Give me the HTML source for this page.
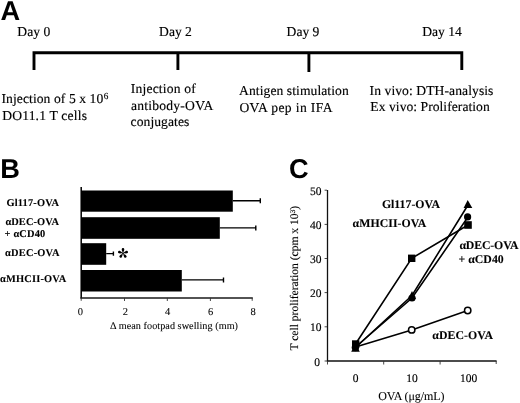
<!DOCTYPE html>
<html><head><meta charset="utf-8">
<style>
html,body{margin:0;padding:0;background:#fff;width:520px;height:403px;overflow:hidden}
svg{display:block;text-rendering:geometricPrecision;filter:grayscale(1)}
.s{font-family:"Liberation Serif",serif;fill:#000;stroke:#000;stroke-width:0.15px}
.b{font-family:"Liberation Serif",serif;font-weight:bold;fill:#000;stroke:#000;stroke-width:0.1px}
.t{font-family:"Liberation Serif",serif;fill:#000;stroke:#000;stroke-width:0.08px}
.h{font-family:"Liberation Sans",sans-serif;font-weight:bold;fill:#000}
</style></head><body>
<svg width="520" height="403" viewBox="0 0 520 403">
<!-- Panel A -->
<text class="h" x="0.6" y="20.2" font-size="27.2">A</text>
<g class="s" font-size="13.6">
<text id="t_day0" x="17.30" textLength="32.94" lengthAdjust="spacing" y="35.5">Day 0</text>
<text id="t_day2" x="159.12" textLength="32.74" lengthAdjust="spacing" y="35.5">Day 2</text>
<text id="t_day9" x="286.62" textLength="32.74" lengthAdjust="spacing" y="35.5">Day 9</text>
<text id="t_day14" x="422.18" textLength="39.58" lengthAdjust="spacing" y="35.5">Day 14</text>
<text id="t_inj5" x="1.50" textLength="106.72" lengthAdjust="spacing" y="102.5">Injection of 5 x 10<tspan font-size="9.2" dy="-3.9" dx="0.3">6</tspan></text>
<text id="t_do11" x="2.14" textLength="84.84" lengthAdjust="spacing" y="119.5">DO11.1 T cells</text>
<text id="t_injof" x="130.84" textLength="64.87" lengthAdjust="spacing" y="92.9">Injection of</text>
<text id="t_antib" x="131.00" textLength="82.26" lengthAdjust="spacing" y="109.8">antibody-OVA</text>
<text id="t_conj" x="130.52" textLength="58.88" lengthAdjust="spacing" y="126.3">conjugates</text>
<text id="t_antig" x="239.10" textLength="109.60" lengthAdjust="spacing" y="94.9">Antigen stimulation</text>
<text id="t_ovapep" x="239.42" textLength="93.11" lengthAdjust="spacing" y="111.5">OVA pep in IFA</text>
<text id="t_invivo" x="369.56" textLength="123.86" lengthAdjust="spacing" y="95.3">In vivo: DTH-analysis</text>
<text id="t_exvivo" x="370.36" textLength="119.37" lengthAdjust="spacing" y="111.1">Ex vivo: Proliferation</text>
</g>
<g stroke="#000" stroke-width="2.9" fill="none" stroke-linecap="butt" stroke-linejoin="miter">
<path d="M34 70 V52.75 H461.8 V70"/>
<path d="M177.9 52.75 V70"/>
<path d="M308.9 52.75 V72"/>
</g>

<!-- Panel B -->
<text class="h" x="0.3" y="177.8" font-size="27.2">B</text>
<g class="b" font-size="10.4">
<text id="b_gl" x="6.40" textLength="52.73" lengthAdjust="spacing" y="205.8">Gl117-OVA</text>
<text id="b_dec1" x="5.40" textLength="53.52" lengthAdjust="spacing" y="225">αDEC-OVA</text>
<text id="b_cd40" x="4.60" textLength="40.64" lengthAdjust="spacing" y="237.3">+ αCD40</text>
<text id="b_dec3" x="5.00" textLength="54.52" lengthAdjust="spacing" y="256.2">αDEC-OVA</text>
<text id="b_mhc" x="0.00" textLength="66.17" lengthAdjust="spacing" y="282.3">αMHCII-OVA</text>
</g>
<g fill="#000">
<rect x="81" y="190.5" width="151.8" height="21.2"/>
<rect x="81" y="217.2" width="138.8" height="21.6"/>
<rect x="81" y="243.2" width="25.2" height="21.6"/>
<rect x="81" y="270" width="100.8" height="21.5"/>
</g>
<g stroke="#000" stroke-width="1.4" fill="none">
<path d="M232.8 200.8 H260.3 M260.3 198.3 V203.3"/>
<path d="M219.8 227.9 H255.8 M255.8 225.5 V230.5"/>
<path d="M106.2 253.6 H113.4 M113.4 251.5 V255.8"/>
<path d="M181.8 279.9 H223.5 M223.5 277.5 V282.5"/>
<path d="M81.2 187 V298.5" stroke-width="1.5"/>
<path d="M80.5 297.9 H252.8" stroke-width="1.5" stroke="#1a1a1a"/>
<path d="M81.2 297.9 V300.8 M124.5 297.9 V301 M167.3 297.9 V301 M210.4 297.9 V301 M252.2 297.9 V300.8" stroke-width="0.9" stroke="#333"/>
</g>
<g transform="translate(123 253.3)" fill="#000"><path transform="rotate(0)" d="M0 0 C-0.3 -1.3 -1.35 -2.9 -1.3 -3.9 A1.3 1.3 0 0 1 1.3 -3.9 C1.35 -2.9 0.3 -1.3 0 0Z"/><path transform="rotate(72)" d="M0 0 C-0.3 -1.3 -1.35 -2.9 -1.3 -3.9 A1.3 1.3 0 0 1 1.3 -3.9 C1.35 -2.9 0.3 -1.3 0 0Z"/><path transform="rotate(144)" d="M0 0 C-0.3 -1.3 -1.35 -2.9 -1.3 -3.9 A1.3 1.3 0 0 1 1.3 -3.9 C1.35 -2.9 0.3 -1.3 0 0Z"/><path transform="rotate(216)" d="M0 0 C-0.3 -1.3 -1.35 -2.9 -1.3 -3.9 A1.3 1.3 0 0 1 1.3 -3.9 C1.35 -2.9 0.3 -1.3 0 0Z"/><path transform="rotate(288)" d="M0 0 C-0.3 -1.3 -1.35 -2.9 -1.3 -3.9 A1.3 1.3 0 0 1 1.3 -3.9 C1.35 -2.9 0.3 -1.3 0 0Z"/><circle r="0.9"/></g>
<g class="t" font-size="10.5" text-anchor="middle">
<text x="80.4" y="315">0</text>
<text x="125.3" y="315">2</text>
<text x="167.6" y="315">4</text>
<text x="210.6" y="315">6</text>
<text x="253" y="315">8</text>
</g>
<text id="b_xlab" class="t" x="110.00" textLength="128.02" lengthAdjust="spacing" y="328.5" font-size="10.2">Δ mean footpad swelling (mm)</text>

<!-- Panel C -->
<text class="h" x="289" y="177.6" font-size="27.2">C</text>
<g class="s" font-size="11.5" text-anchor="end">
<text x="321.5" y="194.5">50</text>
<text x="321.5" y="228.7">40</text>
<text x="321.5" y="262.8">30</text>
<text x="321.5" y="297">20</text>
<text x="321.5" y="331.2">10</text>
<text x="320" y="366.1">0</text>
</g>
<g class="s" font-size="11.5" text-anchor="middle">
<text x="355.5" y="381.6">0</text>
<text x="412" y="381.6">10</text>
<text x="468.5" y="381.6">100</text>
</g>
<text id="c_xlab" class="t" x="378.20" textLength="66.22" lengthAdjust="spacing" y="399.6" font-size="12">OVA (μg/mL)</text>
<text class="s" transform="translate(297.8 350.6) rotate(-90)" font-size="11.6">T cell proliferation (cpm x 10<tspan font-size="7.2" dy="-2.8">3</tspan><tspan dy="2.8">)</tspan></text>
<g stroke="#111" stroke-width="1.3" fill="none">
<path d="M327.5 190 V361.6"/>
<path d="M326.9 361 H496.6"/>
</g>
<g stroke="#333" stroke-width="0.9" fill="none">
<path d="M327.5 361 V364.5 M383.7 361 V364.5 M440.1 361 V364.5 M496.2 361 V364"/>
<path d="M324.6 190.2 H327 M324.6 224.4 H327 M324.6 258.5 H327 M324.6 292.6 H327 M324.6 326.8 H327 M324.6 361 H327"/>
</g>
<g stroke="#000" stroke-width="1.6" fill="none">
<polyline points="355.5,347.5 412,295.5 468.3,204.5"/>
<polyline points="355.5,347 412,298 468,217"/>
<polyline points="355.5,344 411.7,258.3 468,225"/>
<polyline points="355.5,347 411.7,330 467.7,310.5"/>
</g>
<g fill="#000">
<rect x="352" y="340.3" width="7.4" height="7.4"/>
<path d="M355.5 343.5 L359.8 351.8 L351.2 351.8 Z"/>
<circle cx="355.4" cy="347.6" r="3.7"/>
<rect x="408" y="254.6" width="7.4" height="7.4"/>
<rect x="464.2" y="221.2" width="7.6" height="7.6"/>
<circle cx="467.6" cy="216.9" r="3.6"/>
<path d="M467.7 199.9 L472.3 208 L463.6 208 Z"/>
<path d="M412 291 L416 299 L408 299 Z"/>
<circle cx="412" cy="298" r="3.6"/>
</g>
<g stroke="#000" stroke-width="1.5" fill="#fff">
<circle cx="411.7" cy="329.9" r="3.2"/>
<circle cx="467.7" cy="310.5" r="3.2"/>
</g>
<g class="b" font-size="11.8">
<text id="c_gl" x="381.90" textLength="58.12" lengthAdjust="spacing" y="207.8">Gl117-OVA</text>
<text id="c_mhc" x="352.60" textLength="73.72" lengthAdjust="spacing" y="227">αMHCII-OVA</text>
<text id="c_dec1" x="459.40" textLength="59.12" lengthAdjust="spacing" y="248.7">αDEC-OVA</text>
<text id="c_cd40" x="458.60" textLength="45.09" lengthAdjust="spacing" y="262.8">+ αCD40</text>
<text id="c_dec4" x="432.30" textLength="60.63" lengthAdjust="spacing" y="338.8">αDEC-OVA</text>
</g>
</svg>
</body></html>
